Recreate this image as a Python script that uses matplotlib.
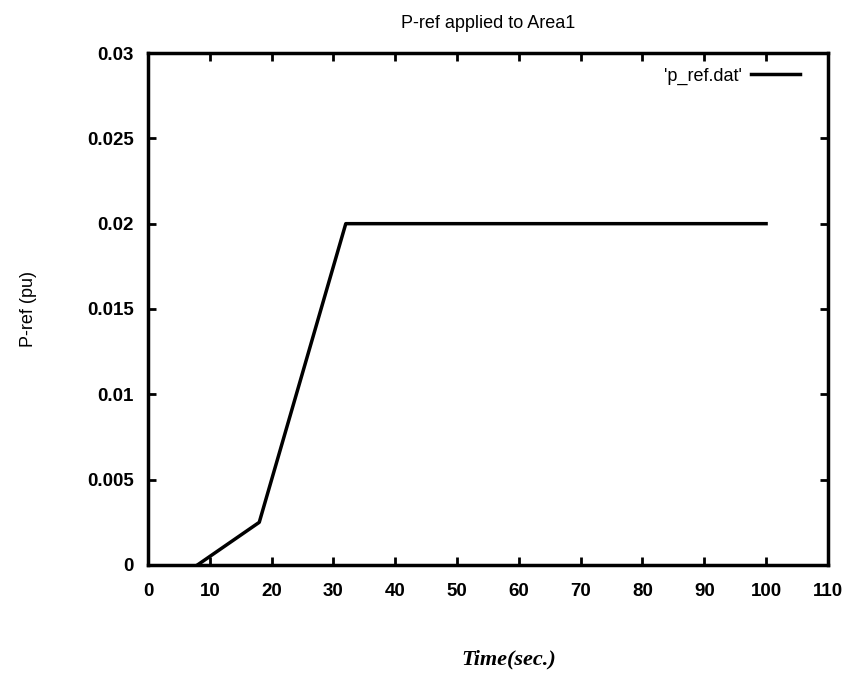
import matplotlib
matplotlib.use("Agg")
import matplotlib.pyplot as plt

# data
time_s = [8, 18, 32, 100]
p_ref = [0.0, 0.0025, 0.02, 0.02]

x_ticks = [0, 10, 20, 30, 40, 50, 60, 70, 80, 90, 100, 110]
y_ticks = [0, 0.005, 0.01, 0.015, 0.02, 0.025, 0.03]
y_labels = ["0", "0.005", "0.01", "0.015", "0.02", "0.025", "0.03"]

plt.rcParams['font.family'] = ['Liberation Sans', 'DejaVu Sans']

fig = plt.figure(figsize=(8.52, 6.84), dpi=100)
ax = fig.add_axes([0.1737, 0.174, 0.798, 0.7485])

ax.plot(time_s, p_ref, color='black', linewidth=2.5, label="'p_ref.dat'")

ax.set_xlim(0, 110)
ax.set_ylim(0, 0.03)
ax.set_xticks(x_ticks)
ax.set_yticks(y_ticks)
ax.set_yticklabels(y_labels)
ax.tick_params(direction='in', top=True, right=True, length=6, width=2,
               labelsize=13.5, pad=10)
ax.tick_params(axis='x', pad=13)
for lab in ax.get_xticklabels() + ax.get_yticklabels():
    lab.set_fontweight('bold')
for sp in ax.spines.values():
    sp.set_linewidth(2.5)

ax.set_title("P-ref applied to Area1", fontsize=13, pad=18)
ax.set_ylabel("P-ref (pu)", fontsize=13, labelpad=36)
ax.set_xlabel("Time(sec.)", fontsize=16, fontstyle='italic', fontweight='bold',
              family='Liberation Serif')
ax.xaxis.set_label_coords(0.53, -0.165)

ax.legend(loc='upper right', bbox_to_anchor=(0.962, 0.975), frameon=False,
          markerfirst=False, fontsize=13, handlelength=2.7, handletextpad=0.55,
          borderaxespad=0, borderpad=0.1)

fig.savefig("out.png", dpi=100)
